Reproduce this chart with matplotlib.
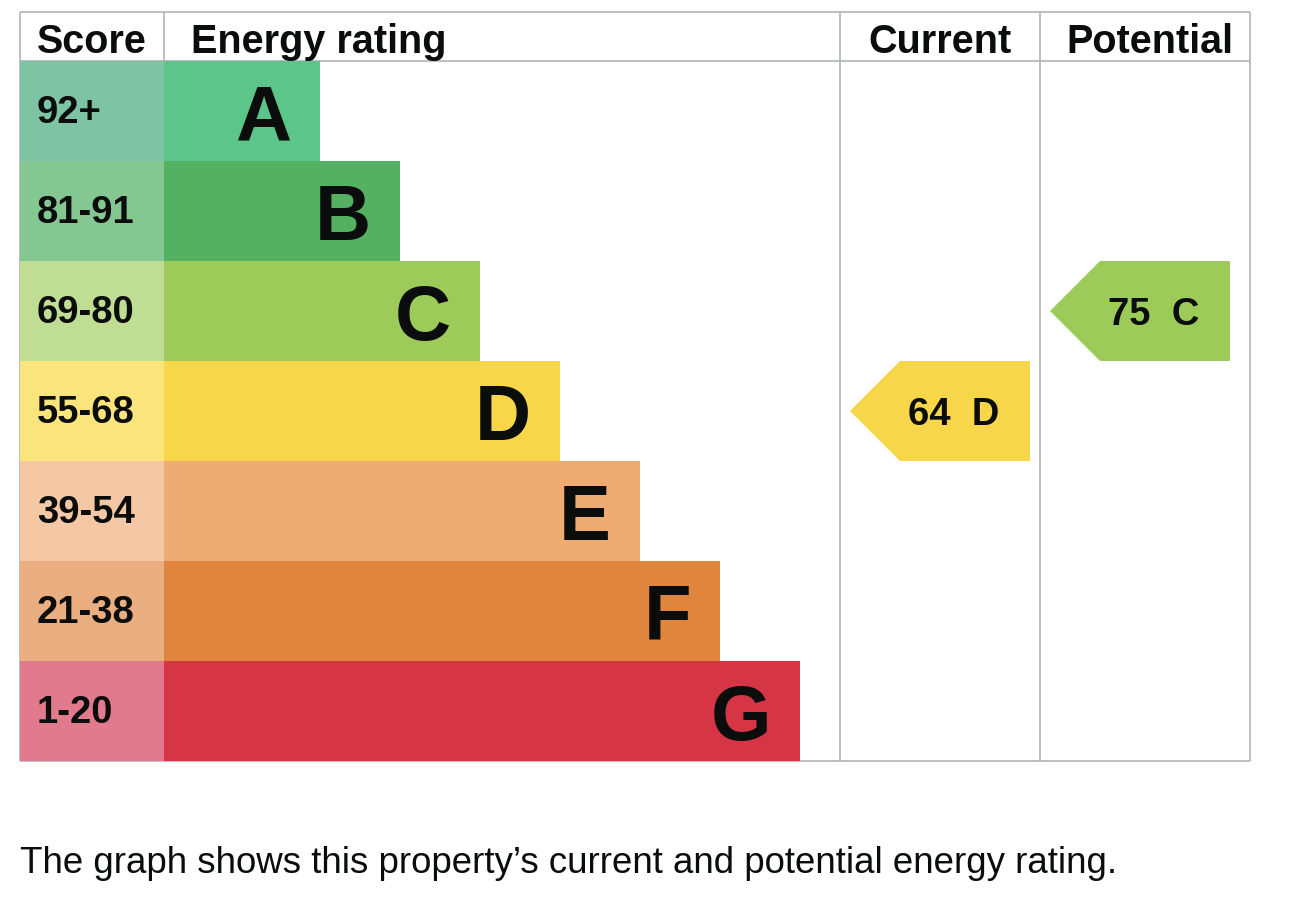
import matplotlib
matplotlib.use("Agg")
import matplotlib.pyplot as plt
from matplotlib.patches import Polygon

# ---- data ----
bands = ["A", "B", "C", "D", "E", "F", "G"]
score_ranges = ["92+", "81-91", "69-80", "55-68", "39-54", "21-38", "1-20"]
band_min_scores = [92, 81, 69, 55, 39, 21, 1]
bar_lengths = [156, 236, 316, 396, 476, 556, 636]
bar_colors = ["#5bc58a", "#53b161", "#9ccb5a", "#f7d649", "#eeac72", "#e0853e", "#d63545"]
score_colors = ["#7ec4a4", "#84c790", "#bfdd93", "#fae47b", "#f4c8a4", "#ebae80", "#e07a8c"]
headers = ["Score", "Energy rating", "Current", "Potential"]
current_score = 64
potential_score = 75
caption = "The graph shows this property\u2019s current and potential energy rating."

# ---- layout (pixel space) ----
W, H = 1302, 904
LEFT, SCORE_R, RATING_R, CUR_R, POT_R = 20, 164, 840, 1040, 1250
TOP, HEAD_B, ROW_H = 13, 62, 100
GRID = "#b1b4b6"
FONT = "Liberation Sans"
INK = "#0b0c0c"

fig = plt.figure(figsize=(W / 100, H / 100), dpi=100)
ax = fig.add_axes([0, 0, 1, 1])
ax.set_xlim(0, W)
ax.set_ylim(H, 0)
ax.axis("off")

n = len(bands)
row_tops = [HEAD_B + ROW_H * i for i in range(n)]
row_centers = [t + ROW_H / 2 for t in row_tops]
BOTTOM = HEAD_B + ROW_H * n

# grid lines
lw = 1.2
for y in (TOP, HEAD_B, BOTTOM):
    ax.plot([LEFT, POT_R], [y, y], color=GRID, lw=lw, zorder=1, solid_capstyle="butt")
for x in (LEFT, SCORE_R, RATING_R, CUR_R, POT_R):
    ax.plot([x, x], [TOP, BOTTOM], color=GRID, lw=lw, zorder=1, solid_capstyle="butt")

# score cells and bars
ax.barh(row_centers, [SCORE_R - LEFT] * n, left=LEFT, height=ROW_H,
        color=score_colors, zorder=2, linewidth=0)
ax.barh(row_centers, bar_lengths, left=SCORE_R, height=ROW_H,
        color=bar_colors, zorder=2, linewidth=0)

for i in range(n):
    ax.text(37, row_tops[i] + 61, score_ranges[i], fontsize=27.5, fontweight="bold",
            family=FONT, color=INK, ha="left", va="baseline", zorder=3)
    ax.text(SCORE_R + bar_lengths[i] - 29, row_tops[i] + 78, bands[i], fontsize=56,
            fontweight="bold", family=FONT, color=INK, ha="right",
            va="baseline", zorder=3)

# headers
hb = 53
hfs = 28.5
ax.text(37, hb, headers[0], fontsize=hfs, fontweight="bold", family=FONT,
        color=INK, ha="left", va="baseline")
ax.text(191, hb, headers[1], fontsize=hfs, fontweight="bold", family=FONT,
        color=INK, ha="left", va="baseline")
ax.text((RATING_R + CUR_R) / 2, hb, headers[2], fontsize=hfs, fontweight="bold",
        family=FONT, color=INK, ha="center", va="baseline")
ax.text((CUR_R + POT_R) / 2 + 5, hb, headers[3], fontsize=hfs, fontweight="bold",
        family=FONT, color=INK, ha="center", va="baseline")


def band_index(score):
    for i, m in enumerate(band_min_scores):
        if score >= m:
            return i
    return n - 1


def arrow(col_left, score):
    i = band_index(score)
    t = row_tops[i]
    b = t + ROW_H
    c = row_centers[i]
    pts = [(col_left + 10, c), (col_left + 60, t), (col_left + 190, t),
           (col_left + 190, b), (col_left + 60, b)]
    ax.add_patch(Polygon(pts, closed=True, facecolor=bar_colors[i],
                         edgecolor="none", zorder=2))
    ax.text(col_left + 114, t + 63, f"{score}  {bands[i]}", fontsize=27.5,
            fontweight="bold", family=FONT, color=INK, ha="center",
            va="baseline", zorder=3)


arrow(RATING_R, current_score)
arrow(CUR_R, potential_score)

ax.text(20, 873, caption, fontsize=26.4, family=FONT, color=INK,
        ha="left", va="baseline")

fig.savefig("out.png", dpi=100)
